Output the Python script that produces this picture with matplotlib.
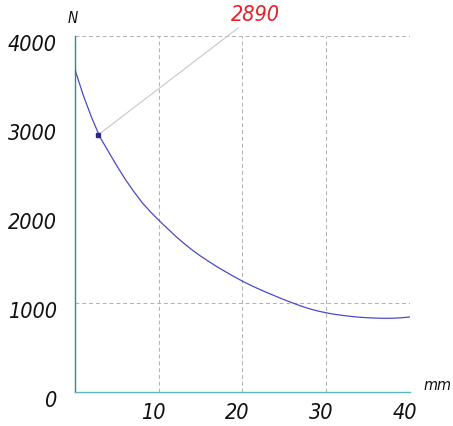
import matplotlib
matplotlib.use("Agg")
import matplotlib.pyplot as plt

# travel (mm) vs force (N)
travel = list(range(0, 41))
force = [3620, 3330, 3080, 2860, 2700, 2540, 2390, 2255, 2130, 2025,
         1930, 1840, 1752, 1670, 1595, 1527, 1465, 1405, 1350, 1296,
         1245, 1198, 1155, 1114, 1075, 1036, 1000, 965, 935, 910,
         890, 873, 860, 849, 840, 834, 830, 828, 829, 834, 843]

marker_x = 2.78
marker_y = 2890
marker_label = "2890"

x_ticks = [10, 20, 30, 40]
y_ticks = [0, 1000, 2000, 3000, 4000]
x_grid = [10, 20, 30, 40]
y_grid = [1000, 4000]

font = dict(family="DejaVu Sans", style="italic", stretch="condensed", weight="light")

fig = plt.figure(figsize=(4.53, 4.26), dpi=100)
ax = fig.add_axes([0.1656, 0.0798, 0.7394, 0.8357])

ax.set_xlim(0, 40)
ax.set_ylim(0, 4000)

for gx in x_grid:
    ax.axvline(gx, color="#b0b0b0", lw=0.7, ls=(0, (4, 3)), zorder=1)
for gy in y_grid:
    ax.axhline(gy, color="#b0b0b0", lw=0.7, ls=(0, (4, 3)), zorder=1)

ax.plot(travel, force, color="#4a4ac8", lw=0.9, zorder=3)

ax.annotate(marker_label, xy=(marker_x, marker_y), xytext=(18.6, 4125),
            textcoords="data", color="#e8202a", fontsize=15.5, ha="left", va="bottom",
            arrowprops=dict(arrowstyle="-", color="#c8c8c8", lw=0.8,
                            shrinkA=0, shrinkB=0),
            annotation_clip=False, **font)
ax.plot([marker_x], [marker_y], marker="s", ms=2.5, color="#2a2a80", zorder=4)

for s in ["top", "right"]:
    ax.spines[s].set_visible(False)
ax.spines["left"].set_color("#2a8c8c")
ax.spines["bottom"].set_color("#5ab4c0")
ax.spines["left"].set_linewidth(1.0)
ax.spines["bottom"].set_linewidth(1.0)

ax.set_xticks(x_ticks)
ax.set_yticks(y_ticks)
ax.tick_params(length=0, pad=0)
ax.set_xticklabels([])
ax.set_yticklabels([])

for v in x_ticks:
    ax.text(v - 0.6, -120, str(v), ha="center", va="top", fontsize=15.5, color="#111111",
            **font)
for v in y_ticks:
    ax.text(-2.2, v - 100, str(v), ha="right", va="center", fontsize=15.5, color="#111111",
            **font)

ax.text(-0.3, 4200, "N", ha="center", va="center", fontsize=11, color="#111111", **font)
ax.text(43.3, 75, "mm", ha="center", va="center", fontsize=11.5, color="#111111", **font)

fig.savefig("out.png", dpi=100)
